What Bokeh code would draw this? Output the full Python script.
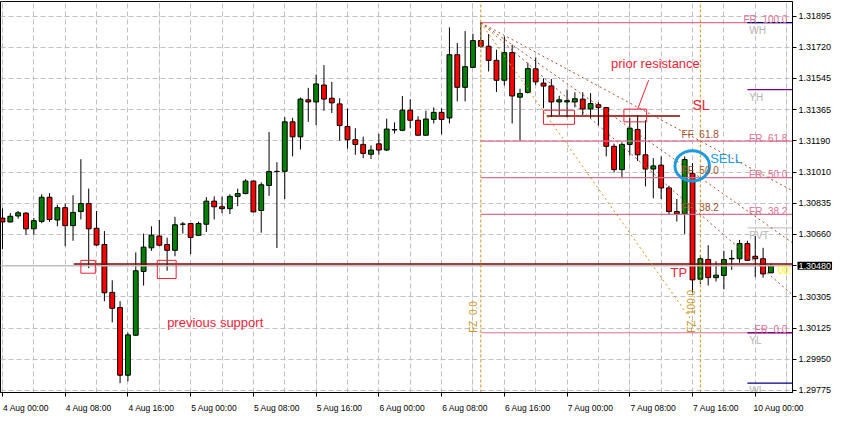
from bokeh.plotting import figure
from bokeh.models import (ColumnDataSource, LinearAxis, FixedTicker, Grid, Label,
                          Range1d, PrintfTickFormatter)
from bokeh.core.properties import value
from bokeh.embed import file_html
from bokeh.resources import INLINE

# ---------------- data (H1 candles) ----------------
opens = [1.30751, 1.30729, 1.30763, 1.30779, 1.30690, 1.30732, 1.30869, 1.30740, 1.30810, 1.30708,
         1.30788, 1.30833, 1.30693, 1.30601, 1.30329, 1.30243, 1.29859, 1.30086, 1.30448, 1.30582,
         1.30649, 1.30601, 1.30568, 1.30716, 1.30720, 1.30653, 1.30716, 1.30847, 1.30815, 1.30804,
         1.30874, 1.30890, 1.30961, 1.30794, 1.30936, 1.31015, 1.31016, 1.31297, 1.31212, 1.31422,
         1.31410, 1.31506, 1.31431, 1.31399, 1.31271, 1.31196, 1.31169, 1.31113, 1.31172, 1.31137,
         1.31251, 1.31249, 1.31363, 1.31306, 1.31221, 1.31311, 1.31351, 1.31319, 1.31678, 1.31493,
         1.31606, 1.31758, 1.31726, 1.31646, 1.31533, 1.31690, 1.31437, 1.31464, 1.31598, 1.31517,
         1.31501, 1.31410, 1.31410, 1.31410, 1.31426, 1.31370, 1.31394, 1.31378, 1.31158, 1.31026,
         1.31169, 1.31254, 1.31110, 1.31029, 1.31051, 1.30922, 1.30788, 1.30775, 1.31004, 1.30404,
         1.30516, 1.30413, 1.30425, 1.30519, 1.30520, 1.30606, 1.30534, 1.30520, 1.30440]
highs = [1.30806, 1.30779, 1.30791, 1.30784, 1.30752, 1.30886, 1.30892, 1.30827, 1.30833, 1.30881,
         1.31085, 1.30918, 1.30791, 1.30677, 1.30398, 1.30279, 1.30101, 1.30556, 1.30663, 1.30704,
         1.30740, 1.30640, 1.30758, 1.30729, 1.30723, 1.30731, 1.30870, 1.30874, 1.30872, 1.30886,
         1.30918, 1.30972, 1.30964, 1.30954, 1.31240, 1.31068, 1.31324, 1.31320, 1.31435, 1.31490,
         1.31565, 1.31619, 1.31524, 1.31431, 1.31372, 1.31261, 1.31213, 1.31163, 1.31229, 1.31315,
         1.31294, 1.31444, 1.31426, 1.31329, 1.31360, 1.31379, 1.31374, 1.31833, 1.31744, 1.31812,
         1.31797, 1.31860, 1.31795, 1.31706, 1.31781, 1.31735, 1.31485, 1.31633, 1.31663, 1.31544,
         1.31540, 1.31445, 1.31481, 1.31465, 1.31465, 1.31460, 1.31409, 1.31379, 1.31173, 1.31181,
         1.31320, 1.31336, 1.31306, 1.31091, 1.31101, 1.30934, 1.30859, 1.31101, 1.31063, 1.30542,
         1.30597, 1.30506, 1.30565, 1.30570, 1.30627, 1.30622, 1.30649, 1.30582, 1.30493]
lows = [1.30574, 1.30725, 1.30748, 1.30657, 1.30657, 1.30722, 1.30729, 1.30704, 1.30591, 1.30622,
        1.30743, 1.30467, 1.30594, 1.30279, 1.30159, 1.29814, 1.29825, 1.30082, 1.30368, 1.30565,
        1.30591, 1.30452, 1.30534, 1.30663, 1.30546, 1.30652, 1.30672, 1.30743, 1.30779, 1.30774,
        1.30818, 1.30886, 1.30784, 1.30668, 1.30877, 1.30581, 1.30859, 1.31101, 1.31140, 1.31297,
        1.31279, 1.31360, 1.31347, 1.31190, 1.31145, 1.31110, 1.31091, 1.31086, 1.31110, 1.31131,
        1.31231, 1.31244, 1.31261, 1.31220, 1.31220, 1.31288, 1.31225, 1.31288, 1.31413, 1.31413,
        1.31604, 1.31717, 1.31583, 1.31467, 1.31503, 1.31288, 1.31189, 1.31458, 1.31506, 1.31374,
        1.31324, 1.31336, 1.31323, 1.31379, 1.31336, 1.31318, 1.31280, 1.31101, 1.31010, 1.30977,
        1.31106, 1.31074, 1.30931, 1.30863, 1.30859, 1.30774, 1.30731, 1.30661, 1.30329, 1.30377,
        1.30368, 1.30391, 1.30346, 1.30457, 1.30497, 1.30508, 1.30416, 1.30413, 1.30439]
closes = [1.30729, 1.30761, 1.30781, 1.30690, 1.30736, 1.30869, 1.30743, 1.30810, 1.30708, 1.30783,
          1.30833, 1.30690, 1.30598, 1.30327, 1.30239, 1.29859, 1.30088, 1.30452, 1.30586, 1.30654,
          1.30597, 1.30568, 1.30713, 1.30717, 1.30641, 1.30720, 1.30847, 1.30815, 1.30804, 1.30874,
          1.30890, 1.30961, 1.30786, 1.30940, 1.31015, 1.31016, 1.31297, 1.31212, 1.31426, 1.31410,
          1.31512, 1.31426, 1.31405, 1.31276, 1.31196, 1.31169, 1.31118, 1.31137, 1.31137, 1.31256,
          1.31253, 1.31363, 1.31306, 1.31221, 1.31313, 1.31351, 1.31311, 1.31678, 1.31493, 1.31610,
          1.31758, 1.31726, 1.31646, 1.31533, 1.31690, 1.31444, 1.31458, 1.31599, 1.31524, 1.31500,
          1.31410, 1.31422, 1.31417, 1.31428, 1.31370, 1.31401, 1.31378, 1.31158, 1.31026, 1.31169,
          1.31261, 1.31110, 1.31029, 1.31047, 1.30922, 1.30788, 1.30775, 1.31083, 1.30400, 1.30520,
          1.30413, 1.30427, 1.30516, 1.30522, 1.30606, 1.30511, 1.30520, 1.30434, 1.30480]

time_labels = ["4 Aug 00:00", "4 Aug 08:00", "4 Aug 16:00", "5 Aug 00:00", "5 Aug 08:00",
               "5 Aug 16:00", "6 Aug 00:00", "6 Aug 08:00", "6 Aug 16:00", "7 Aug 00:00",
               "7 Aug 08:00", "7 Aug 16:00", "10 Aug 00:00"]
time_label_bars = [0, 8, 16, 24, 32, 40, 48, 56, 64, 72, 80, 88, 96]

price_ticks = [1.29775, 1.29950, 1.30125, 1.30305, 1.30480, 1.30660, 1.30835,
               1.31010, 1.31190, 1.31365, 1.31545, 1.31720, 1.31895]

bid_price = 1.30480
support_price = 1.30490
sl_price = 1.31330

fib_start_bar = 61
fib_end_bar = 89
fr_levels = [1.31860, 1.31188, 1.30980, 1.30772, 1.30100]
fr_ratios = ["100.0", "61.8", "50.0", "38.2", "0.0"]
fan_levels = [1.31188, 1.30980, 1.30772]
fan_ratios = ["61.8", "50.0", "38.2"]

pivot_names = ["WH", "YH", "PVT", "YL", "WL"]
pivot_levels = [1.31860, 1.31480, 1.30695, 1.30100, 1.29814]
pivot_colors = ["#000080", "#800080", "#c8c8c8", "#800080", "#000080"]

zone_left = [10.0, 19.75, 69.0, 79.25]
zone_right = [11.85, 22.15, 72.95, 82.15]
zone_top = [1.30511, 1.30511, 1.31363, 1.31369]
zone_bottom = [1.30438, 1.30408, 1.31283, 1.31297]

# ---------------- figure ----------------
FONT = value("Liberation Sans")
SP = "\u00a0 "
x_start, x_end = -0.25, 100.75
y_start, y_end = 1.29761, 1.31980

p = figure(width=839, height=423, output_backend="svg", toolbar_location=None,
           x_range=Range1d(x_start, x_end), y_range=Range1d(y_start, y_end),
           x_axis_location=None, y_axis_location="right",
           min_border_left=0, min_border_top=1, min_border_right=47, min_border_bottom=16,
           background_fill_color="white", border_fill_color="white",
           outline_line_color="black", outline_line_width=1)

yax = p.yaxis[0]
yax.ticker = FixedTicker(ticks=price_ticks)
yax.formatter = PrintfTickFormatter(format="%.5f")
yax.major_tick_out = 4
yax.major_tick_in = 0
yax.minor_tick_line_color = None
yax.major_label_standoff = 2
yax.major_label_text_font = "Liberation Sans"
yax.major_label_text_font_size = "9px"
yax.major_label_text_color = "black"
yax.axis_line_color = "black"

p.ygrid.grid_line_color = "#c0c0c0"
p.ygrid.grid_line_dash = "5 3"
p.ygrid.grid_line_width = 1

xgrid = Grid(dimension=0, ticker=FixedTicker(ticks=list(range(0, 101, 4))),
             grid_line_color="#c0c0c0", grid_line_dash="5 3", grid_line_width=1)
p.add_layout(xgrid)

ax_ticks = LinearAxis(ticker=FixedTicker(ticks=time_label_bars),
                      major_tick_out=4, major_tick_in=0, minor_tick_line_color=None,
                      major_label_text_font_size="0px", major_label_text_color=None,
                      major_label_standoff=0, axis_line_color="black")
label_pos = [b + 3 for b in time_label_bars]
ax_labels = LinearAxis(ticker=FixedTicker(ticks=label_pos),
                       major_label_overrides={lp: t for lp, t in zip(label_pos, time_labels)},
                       axis_line_color=None, major_tick_line_color=None,
                       minor_tick_line_color=None, major_label_standoff=0,
                       major_label_text_font="Liberation Sans",
                       major_label_text_font_size="8.5px", major_label_text_color="black")
p.add_layout(ax_ticks, "below")
p.add_layout(ax_labels, "below")

# ---------------- candles ----------------
n = len(opens)
src = ColumnDataSource(dict(
    x=list(range(n)), h=highs, l=lows,
    top=[max(o, c) for o, c in zip(opens, closes)],
    bottom=[min(o, c) for o, c in zip(opens, closes)],
    color=["#008000" if c >= o else "#ff0000" for o, c in zip(opens, closes)]))
p.segment(x0="x", y0="l", x1="x", y1="h", source=src, line_color="black", line_width=1)
p.vbar(x="x", top="top", bottom="bottom", width=0.62, source=src,
       fill_color="color", line_color="black", line_width=1)

# ---------------- horizontal levels ----------------
p.segment(x0=[x_start], y0=[bid_price], x1=[x_end], y1=[bid_price],
          line_color="#c0c0c0", line_width=1.5)
p.segment(x0=[9.1], y0=[support_price], x1=[x_end], y1=[support_price],
          line_color="#800000", line_width=1.5)
p.segment(x0=[69.4], y0=[sl_price], x1=[86.4], y1=[sl_price],
          line_color="#8b0000", line_width=1.5)

FR_COLOR = "#db7093"
p.segment(x0=[fib_start_bar] * len(fr_levels), y0=fr_levels,
          x1=[x_end] * len(fr_levels), y1=fr_levels, line_color=FR_COLOR, line_width=1.2)

p.segment(x0=[95.0] * len(pivot_levels), y0=pivot_levels, x1=[x_end] * len(pivot_levels),
          y1=pivot_levels, line_color=pivot_colors, line_width=1.3)

# ---------------- fib zones / fan ----------------
GOLD = "#c8961e"
p.segment(x0=[fib_start_bar, fib_end_bar], y0=[y_start, y_start],
          x1=[fib_start_bar, fib_end_bar], y1=[y_end, y_end],
          line_color=GOLD, line_dash="3 2", line_width=1)
p.segment(x0=[fib_start_bar], y0=[fr_levels[0]], x1=[fib_end_bar], y1=[fr_levels[-1]],
          line_color=GOLD, line_dash="2 3", line_width=1)

fan_x1, fan_y1 = [], []
for lv in fan_levels:
    slope = (lv - fr_levels[0]) / (fib_end_bar - fib_start_bar)
    fan_x1.append(x_end)
    fan_y1.append(fr_levels[0] + slope * (x_end - fib_start_bar))
p.segment(x0=[fib_start_bar] * len(fan_levels), y0=[fr_levels[0]] * len(fan_levels),
          x1=fan_x1, y1=fan_y1, line_color="#a0522d", line_dash="2 3", line_width=1)

# ---------------- zones, pointer, ellipse ----------------
RED = "#ee2236"
p.quad(left=zone_left, right=zone_right, top=zone_top, bottom=zone_bottom,
       fill_alpha=0, line_color=RED, line_width=1)
p.segment(x0=[82.4], y0=[1.31533], x1=[81.0], y1=[1.31369], line_color=RED, line_width=1)
p.ellipse(x=[87.96], y=[1.31047], width=4.4, height=0.00172,
          fill_alpha=0, line_color="#1e9be0", line_width=3)

# ---------------- texts ----------------
p.text(x=[x_end - 0.65] * len(fr_levels), y=fr_levels,
       text=["FR" + SP + r for r in fr_ratios], text_font=FONT, text_font_size="10px",
       text_color=FR_COLOR, text_align="right", text_baseline="alphabetic", y_offset=-3)
p.text(x=[86.6] * len(fan_levels), y=fan_levels,
       text=["FF" + SP + r for r in fan_ratios], text_font=FONT, text_font_size="10px",
       text_color="#a0522d", text_align="left", text_baseline="alphabetic", y_offset=-7)
p.text(x=[95.25] * len(pivot_levels), y=pivot_levels, text=pivot_names, text_font=FONT,
       text_font_size="10px", text_color="#b4b4b4", text_align="left",
       text_baseline="top", y_offset=2)
p.text(x=[fib_start_bar - 0.25, fib_end_bar - 0.4], y=[fr_levels[-1], fr_levels[-1]],
       text=["FZ" + SP + "0.0", "FZ" + SP + "100.0"], angle=1.5708, text_font=FONT,
       text_font_size="10px", text_color=GOLD, text_align="left", text_baseline="bottom")

p.text(x=[77.6], y=[1.31626], text=["prior resistance"], text_font=FONT,
       text_font_size="13px", text_color=RED, text_align="left", text_baseline="middle")
p.text(x=[21.0], y=[1.30157], text=["previous support"], text_font=FONT,
       text_font_size="13px", text_color=RED, text_align="left", text_baseline="middle")
p.text(x=[88.0], y=[1.31393], text=["SL"], text_font=FONT,
       text_font_size="14px", text_color=RED, text_align="left", text_baseline="middle")
p.text(x=[85.2], y=[1.30441], text=["TP"], text_font=FONT,
       text_font_size="13px", text_color=RED, text_align="left", text_baseline="middle")
p.text(x=[90.25], y=[1.31090], text=["SELL"], text_font=FONT,
       text_font_size="13px", text_color="#1e9be0", text_align="left", text_baseline="middle")
p.text(x=[98.9], y=[1.30452], text=["00:5"], text_font=FONT,
       text_font_size="10px", text_color="#ffff00", text_align="left", text_baseline="middle")

# current bid price marker on the price scale (side panel, so it is not clipped)
bid_label = Label(x=x_end, y=bid_price, text="1.30480", x_offset=5,
                  text_font="Liberation Sans", text_font_size="9px", text_color="white",
                  text_align="left", text_baseline="middle",
                  background_fill_color="black", background_fill_alpha=1.0, padding=1)
p.add_layout(bid_label, "below")

open("out.html", "w").write(file_html(p, INLINE))
